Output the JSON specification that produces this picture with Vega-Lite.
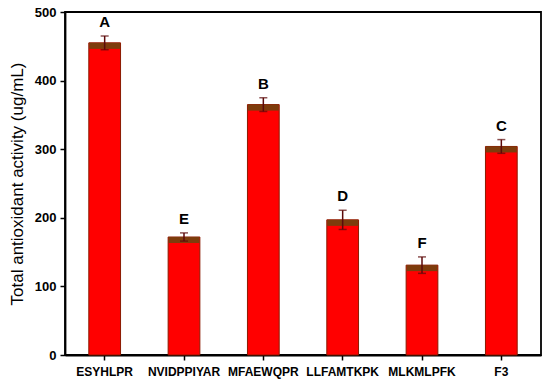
{
  "$schema": "https://vega.github.io/schema/vega-lite/v6.json",
  "width": 476,
  "height": 343,
  "autosize": {"type": "none"},
  "padding": {"left": 65, "top": 12, "right": 9, "bottom": 31},
  "background": "white",
  "config": {
    "view": {"stroke": "black", "strokeWidth": 1.8},
    "font": "Liberation Sans",
    "axis": {"domainColor": "black", "domainWidth": 1.8, "tickColor": "black", "tickWidth": 1.5, "grid": false, "labelColor": "black", "titleColor": "black", "labelFont": "Liberation Sans", "titleFont": "Liberation Sans"}
  },
  "data": {
    "values": [
      {"pep": "ESYHLPR", "value": 455, "lo": 445, "hi": 465, "letter": "A"},
      {"pep": "NVIDPPIYAR", "value": 172, "lo": 166, "hi": 178, "letter": "E"},
      {"pep": "MFAEWQPR", "value": 365, "lo": 355, "hi": 375, "letter": "B"},
      {"pep": "LLFAMTKPK", "value": 197, "lo": 183, "hi": 211, "letter": "D"},
      {"pep": "MLKMLPFK", "value": 131, "lo": 119, "hi": 143, "letter": "F"},
      {"pep": "F3", "value": 304, "lo": 294, "hi": 314, "letter": "C"}
    ]
  },
  "encoding": {
    "x": {
      "field": "pep", "type": "nominal", "sort": null,
      "scale": {"paddingInner": 0.6, "paddingOuter": 0.3},
      "axis": {"title": null, "labelAngle": 0, "labelFontWeight": "bold", "labelFontSize": 12, "tickSize": 5, "labelPadding": 6}
    }
  },
  "layer": [
    {
      "mark": {"type": "bar", "color": "#ff0000", "stroke": "#8b1a00", "strokeWidth": 1},
      "encoding": {
        "y": {
          "field": "value", "type": "quantitative",
          "scale": {"domain": [0, 500], "nice": false},
          "axis": {
            "title": "Total antioxidant activity (ug/mL)",
            "titleFontSize": 17, "titleFontWeight": "normal", "titlePadding": 8,
            "values": [0, 50, 100, 150, 200, 250, 300, 350, 400, 450, 500],
            "labelExpr": "datum.value % 100 === 0 ? datum.label : ''",
            "labelFontWeight": "bold", "labelFontSize": 13, "tickSize": 5, "labelPadding": 4
          }
        }
      }
    },
    {
      "mark": {"type": "tick", "color": "#7d3c0c", "thickness": 6, "size": 31, "yOffset": 3, "opacity": 1},
      "encoding": {"y": {"field": "value", "type": "quantitative"}}
    },
    {
      "mark": {"type": "rule", "color": "#5c0a0a", "strokeWidth": 1.5},
      "encoding": {"y": {"field": "lo", "type": "quantitative"}, "y2": {"field": "hi"}}
    },
    {
      "mark": {"type": "tick", "color": "#5c0a0a", "thickness": 1.5, "size": 8},
      "encoding": {"y": {"field": "lo", "type": "quantitative"}}
    },
    {
      "mark": {"type": "tick", "color": "#5c0a0a", "thickness": 1.5, "size": 8},
      "encoding": {"y": {"field": "hi", "type": "quantitative"}}
    },
    {
      "mark": {"type": "text", "fontSize": 15, "fontWeight": "bold", "color": "black", "baseline": "bottom", "dy": -6},
      "encoding": {"y": {"field": "hi", "type": "quantitative"}, "text": {"field": "letter"}}
    }
  ]
}
